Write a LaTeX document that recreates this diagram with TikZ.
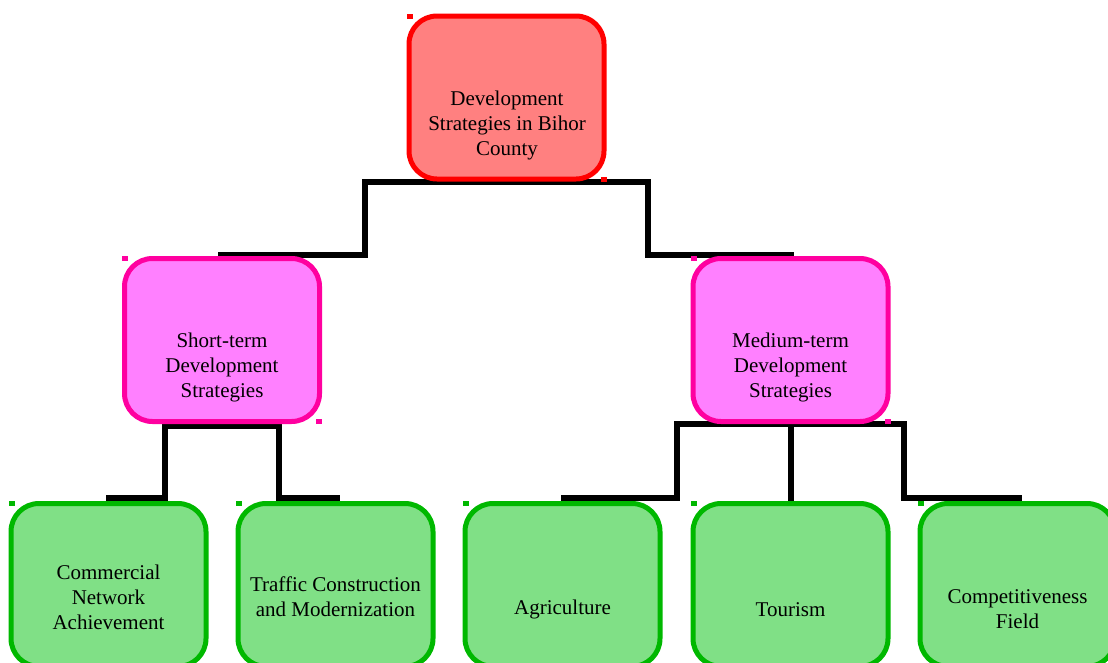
\documentclass[tikz,border=0pt]{standalone}
\usepackage{fontspec}
\setmainfont{Liberation Serif}
\usetikzlibrary{backgrounds}
\definecolor{rootfill}{HTML}{FF8080}
\definecolor{rootline}{HTML}{FF0000}
\definecolor{midfill}{HTML}{FF80FF}
\definecolor{midline}{HTML}{FF00A0}
\definecolor{leaffill}{HTML}{80E086}
\definecolor{leafline}{HTML}{00B800}

\begin{document}
\begin{tikzpicture}[x=1pt, y=-1pt,
  box/.style={rectangle, rounded corners=28pt, line width=5pt, minimum width=195pt, minimum height=163pt, inner sep=0pt},
  rootbox/.style={box, draw=rootline, fill=rootfill},
  midbox/.style={box, draw=midline, fill=midfill},
  leafbox/.style={box, draw=leafline, fill=leaffill},
  txt/.style={align=center, inner sep=0pt, font=\fontsize{21}{25}\selectfont},
  link/.style={line width=6pt, draw=black}]
\useasboundingbox (0,0) rectangle (1108,662);
\node[rootbox] (root) at (506.5,97.5) {};
\node[midbox] (short) at (222,340) {};
\node[midbox] (medium) at (790.5,340) {};
\node[leafbox] (comm) at (108.5,585) {};
\node[leafbox] (traffic) at (335.5,585) {};
\node[leafbox] (agri) at (562.5,585) {};
\node[leafbox] (tour) at (790.5,585) {};
\node[leafbox] (comp) at (1017.5,585) {};
\node[txt] (roottxt) at (507,125) {Development\\Strategies in Bihor\\County};
\node[txt] (shorttxt) at (222,367.5) {Short-term\\Development\\Strategies};
\node[txt] (mediumtxt) at (790.5,367.5) {Medium-term\\Development\\Strategies};
\node[txt] (commtxt) at (108.5,597) {Commercial\\Network\\Achievement};
\node[txt] (traffictxt) at (335.5,597) {Traffic Construction\\and Modernization};
\node[txt] (agritxt) at (562.5,609.5) {Agriculture};
\node[txt] (tourtxt) at (790.5,609.5) {Tourism};
\node[txt] (comptxt) at (1017.5,609.5) {Competitiveness\\Field};
\foreach \n/\c in {root/rootline, short/midline, medium/midline, comm/leafline, traffic/leafline, agri/leafline, tour/leafline, comp/leafline} {
  \fill[\c] (\n.north west) rectangle ++(6,5);
  \fill[\c] (\n.south east) rectangle ++(-6,-5);
}
\begin{scope}[on background layer]
\draw[link] (root.south) -- ++(-141.5,0) |- ([xshift=-4pt,yshift=1.5pt]short.north);
\draw[link] (root.south) -- ++(141.5,0) |- ([xshift=3pt,yshift=1.5pt]medium.north);
\draw[link] (short.south) -- ++(0,2) -- ++(-57,0) |- ([xshift=-3pt,yshift=3pt]comm.north);
\draw[link] (short.south) -- ++(0,2) -- ++(57,0) |- ([xshift=4pt,yshift=3pt]traffic.north);
\draw[link] (medium.south) -- ++(-113.5,0) |- ([xshift=-2pt,yshift=3pt]agri.north);
\draw[link] (medium.south) -- (tour.north);
\draw[link] (medium.south) -- ++(113.5,0) |- ([xshift=4pt,yshift=3pt]comp.north);
\end{scope}
\end{tikzpicture}
\end{document}
